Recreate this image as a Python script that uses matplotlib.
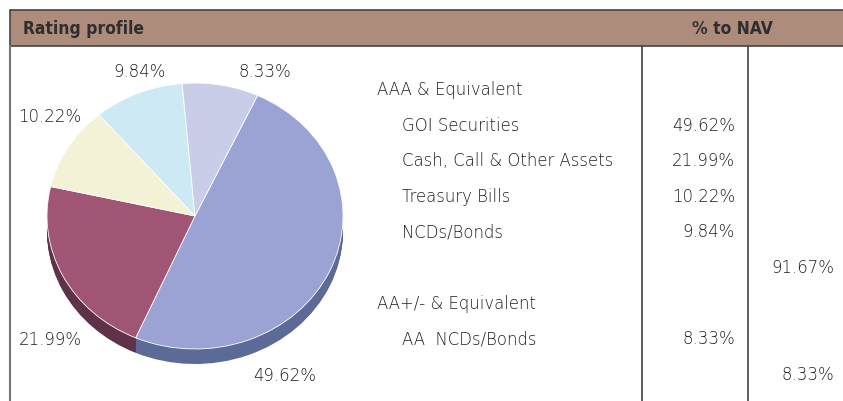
import matplotlib
matplotlib.use("Agg")
import matplotlib.pyplot as plt
from matplotlib.patches import Rectangle

# rating profile shares (% to NAV), pie order clockwise from the top
slice_names = ["GOI Securities", "Cash, Call & Other Assets", "Treasury Bills",
               "NCDs/Bonds", "AA NCDs/Bonds"]
slice_values = [49.62, 21.99, 10.22, 9.84, 8.33]
slice_labels = ["49.62%", "21.99%", "10.22%", "9.84%", "8.33%"]

# table rows: label, indent level, holding %, group total %
row_labels = ["AAA & Equivalent", "GOI Securities", "Cash, Call & Other Assets",
              "Treasury Bills", "NCDs/Bonds", "", "AA+/- & Equivalent",
              "AA  NCDs/Bonds", ""]
row_indent = [0, 1, 1, 1, 1, 0, 0, 1, 0]
row_values = ["", "49.62%", "21.99%", "10.22%", "9.84%", "", "", "8.33%", ""]
row_totals = ["", "", "", "", "", "91.67%", "", "", "8.33%"]

top_colors = ["#9aa3d4", "#a15575", "#f3f1d6", "#cde9f3", "#c9cde7"]
side_colors = ["#5c6a97", "#5e3248", "#c9c7ad", "#a6c3cc", "#a3a6bf"]
header_color = "#ad8c7c"
line_color = "#444444"
text_color = "#1e1e1e"
body = dict(family="DejaVu Sans", weight="light", fontsize=11.9, color=text_color)
head = dict(family="DejaVu Sans", weight="bold", fontstretch="condensed",
            fontsize=12.5, color="#2e2e2e")

W, H = 843, 402
fig = plt.figure(figsize=(W / 100, H / 100), dpi=100)

# page layer in pixel coordinates
ax = fig.add_axes([0, 0, 1, 1])
ax.set_xlim(0, W)
ax.set_ylim(H, 0)
ax.axis("off")

ax.add_patch(Rectangle((9.5, 10.5), W - 9, 36.5, facecolor=header_color,
                       edgecolor=line_color, linewidth=1.2))
ax.plot([9.5, 9.5], [47, H], color="#777777", lw=1.5)
ax.plot([641.5, 641.5], [47, H], color=line_color, lw=1.2)
ax.plot([747.5, 747.5], [47, H], color=line_color, lw=1.2)

ax.text(23, 29, "Rating profile", va="center", ha="left", **head)
ax.text(732, 29, "% to NAV", va="center", ha="center", **head)

row_y0, row_step = 90, 35.6
for i, (lab, ind, val, tot) in enumerate(zip(row_labels, row_indent, row_values, row_totals)):
    y = row_y0 + i * row_step
    if lab:
        ax.text(377 + 25 * ind, y, lab, va="center", ha="left", **body)
    if val:
        ax.text(735, y, val, va="center", ha="right", **body)
    if tot:
        ax.text(834, y, tot, va="center", ha="right", **body)

# pie layer: unit radius maps to 148 px across and 133 px tall
pax = fig.add_axes([2.6 / W, 1 - 389.9 / H, 384.8 / W, 339.15 / H])
depth = 15 / 133
n_layers = 16
for k in range(n_layers, 0, -1):
    off = depth * k / n_layers
    pax.pie(slice_values, colors=side_colors, startangle=65, counterclock=False,
            center=(0, -off), radius=1, wedgeprops=dict(linewidth=0))
pax.pie(slice_values, colors=top_colors, startangle=65, counterclock=False,
        center=(0, 0), radius=1, wedgeprops=dict(linewidth=0.6, edgecolor="#ffffff"))
pax.set_aspect("auto")
pax.set_xlim(-1.3, 1.3)
pax.set_ylim(-1.3, 1.25)
pax.axis("off")

# percentage labels around the pie, in page pixels
label_pos = {"49.62%": (285, 376), "21.99%": (50, 340), "10.22%": (50, 117),
             "9.84%": (140, 72), "8.33%": (265, 72)}
for lab in slice_labels:
    x, y = label_pos[lab]
    ax.text(x, y, lab, va="center", ha="center", **body)

fig.savefig("out.png", dpi=100)
